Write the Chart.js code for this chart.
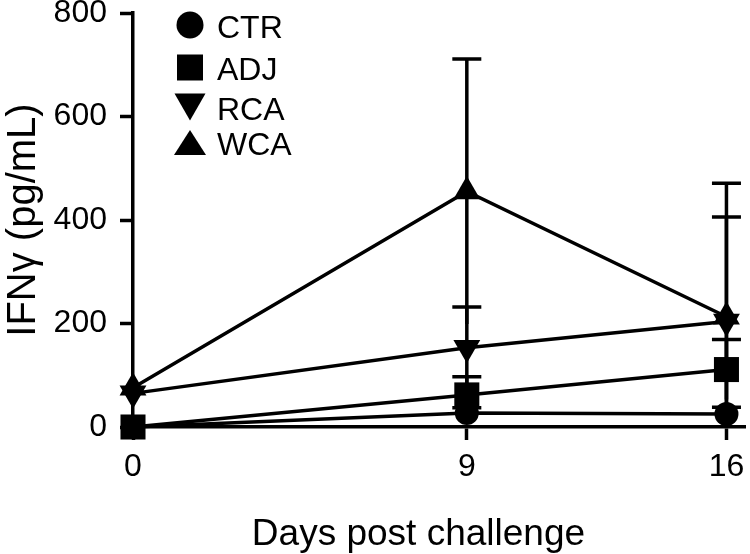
<!DOCTYPE html>
<html><head><meta charset="utf-8">
<script src="https://cdn.jsdelivr.net/npm/chart.js@4/dist/chart.umd.min.js"></script>
<style>html,body{margin:0;padding:0;background:#fff}#wrap{width:750px;height:554px}</style>
</head><body><div id="wrap"><canvas id="c" width="750" height="554"></canvas></div>
<script>
// ---- data ----
const days = [0, 9, 16];
const xTicks = [0, 9, 16];
const yTicks = [0, 200, 400, 600, 800];
const seriesNames = ['CTR', 'ADJ', 'RCA', 'WCA'];
const ctr = [0, 27, 25];
const adj = [0, 62, 111];
const rca = [65, 153, 204];
const wca = [76, 455, 213];
const ctrErr = [0, 10, 13];
const adjErr = [0, 35, 58];
const rcaErr = [0, 79, 202];
const wcaErr = [0, 256, 258];

const FONT = "'Liberation Sans', Arial, Helvetica, sans-serif";
const values = [ctr, adj, rca, wca];
const errors = [ctrErr, adjErr, rcaErr, wcaErr];
const styles = [
  {pointStyle: 'circle', pointRadius: 12, rotation: 0},
  {pointStyle: 'rect', pointRadius: 17.7, rotation: 0},
  {pointStyle: 'triangle', pointRadius: 15.5, rotation: 180},
  {pointStyle: 'triangle', pointRadius: 15.5, rotation: 0}
];

const datasets = seriesNames.map((name, i) => ({
  label: name,
  data: days.map((d, j) => ({x: d, y: values[i][j]})),
  borderColor: '#000',
  backgroundColor: '#000',
  borderWidth: 3.5,
  pointStyle: styles[i].pointStyle,
  pointRadius: styles[i].pointRadius,
  pointRotation: styles[i].rotation,
  pointBackgroundColor: '#000',
  pointBorderColor: '#000',
  pointBorderWidth: 0,
  tension: 0,
  clip: false
}));

const errorBars = {
  id: 'errorBars',
  beforeDatasetsDraw(chart) {
    const ctx = chart.ctx, xs = chart.scales.x, ys = chart.scales.y;
    ctx.save();
    ctx.strokeStyle = '#000';
    ctx.lineWidth = 3.5;
    ctx.lineCap = 'butt';
    errors.forEach((errArr, i) => {
      errArr.forEach((e, j) => {
        if (!e) return;
        const v = values[i][j];
        const px = xs.getPixelForValue(days[j]);
        const top = ys.getPixelForValue(v + e);
        const bot = ys.getPixelForValue(Math.max(0, v - e));
        ctx.beginPath();
        ctx.moveTo(px, bot); ctx.lineTo(px, top);
        ctx.moveTo(px - 14.5, top); ctx.lineTo(px + 14.5, top);
        ctx.stroke();
      });
    });
    ctx.restore();
  }
};

const legendBox = {
  id: 'legendBox',
  afterDraw(chart) {
    const ctx = chart.ctx;
    ctx.save();
    ctx.fillStyle = '#000';
    const mx = 190;
    ctx.beginPath(); ctx.arc(mx, 25, 13.5, 0, Math.PI * 2); ctx.fill();
    ctx.fillRect(mx - 13, 67.5 - 13, 26, 26);
    ctx.beginPath(); ctx.moveTo(mx - 15.5, 93.5); ctx.lineTo(mx + 15.5, 93.5); ctx.lineTo(mx, 120.5); ctx.closePath(); ctx.fill();
    ctx.beginPath(); ctx.moveTo(mx, 130); ctx.lineTo(mx + 16, 155); ctx.lineTo(mx - 16, 155); ctx.closePath(); ctx.fill();
    ctx.font = '32px ' + FONT;
    ctx.textBaseline = 'alphabetic';
    ctx.textAlign = 'left';
    const ys = [38, 80, 120, 155];
    seriesNames.forEach((n, i) => ctx.fillText(n, 217, ys[i]));
    ctx.restore();
  }
};

new Chart(document.getElementById('c'), {
  type: 'line',
  data: {datasets},
  plugins: [errorBars, legendBox],
  options: {
    responsive: false,
    devicePixelRatio: 1,
    animation: false,
    layout: {autoPadding: false, padding: {top: 13, right: 5, left: 0, bottom: 0}},
    plugins: {legend: {display: false}, tooltip: {enabled: false}},
    scales: {
      x: {
        type: 'linear', min: 0, max: 16.5,
        afterBuildTicks: s => { s.ticks = xTicks.map(v => ({value: v})); },
        afterFit: s => { s.height = 127; s.paddingRight = 0; s.paddingLeft = 0; },
        ticks: {color: '#000', font: {family: FONT, size: 32}, padding: 8, maxRotation: 0},
        grid: {drawOnChartArea: false, drawTicks: true, tickLength: 13, tickWidth: 3.5, tickColor: '#000'},
        border: {display: true, color: '#000', width: 3.5},
        title: {display: true, text: 'Days post challenge\u00A0\u00A0\u00A0\u00A0', color: '#000', font: {family: FONT, size: 37}, padding: {top: 0, bottom: -3}}
      },
      y: {
        min: 0, max: 800,
        afterBuildTicks: s => { s.ticks = yTicks.map(v => ({value: v})); },
        afterFit: s => { s.width = 133; s.paddingTop = 0; s.paddingBottom = 0; },
        ticks: {color: '#000', font: {family: FONT, size: 32, lineHeight: 0.8}, padding: 13},
        grid: {drawOnChartArea: false, drawTicks: true, tickLength: 13, tickWidth: 3.5, tickColor: '#000'},
        border: {display: true, color: '#000', width: 3.5},
        title: {display: true, text: 'IFNγ (pg/mL)', color: '#000', font: {family: FONT, size: 40}, padding: {top: 0, bottom: 0}}
      }
    }
  }
});
</script></body></html>
